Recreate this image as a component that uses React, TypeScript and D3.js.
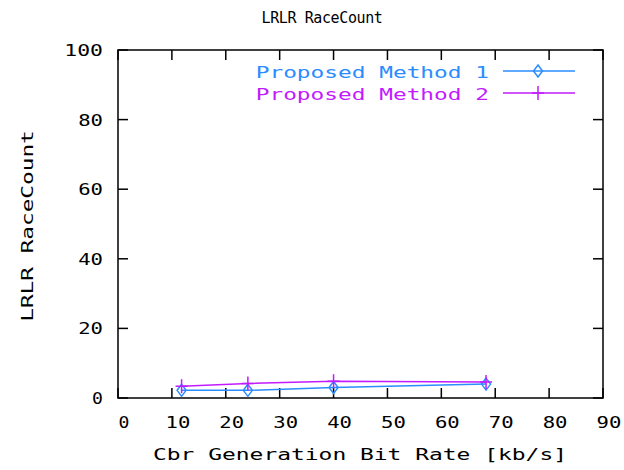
import React from "react";
import * as d3 from "d3";

const title = "LRLR RaceCount";
const xLabel = "Cbr Generation Bit Rate [kb/s]";
const yLabel = "LRLR RaceCount";
const xTicks = [0, 10, 20, 30, 40, 50, 60, 70, 80, 90];
const yTicks = [0, 20, 40, 60, 80, 100];
const seriesNames = ["Proposed Method 1", "Proposed Method 2"];
const seriesColors = ["#2a8cff", "#c21bff"];
const xValues1 = [11.8, 24.1, 40, 68.3];
const yValues1 = [2.2, 2.2, 3.0, 4.0];
const xValues2 = [11.8, 24.1, 40, 68.3];
const yValues2 = [3.4, 4.2, 4.8, 4.6];

const W = 624, H = 470;
const L = 118, R = 603, T = 50, B = 398;
const FONT = "'DejaVu Sans Mono', monospace";
const PITCH = 13.9;

function WT(props: { x?: number; y?: number; anchor?: string; fill?: string; transform?: string; children: string }) {
  const s = props.children;
  return (
    <text x={props.x ?? 0} y={props.y ?? 0} transform={props.transform} textAnchor={props.anchor || "start"}
      fontFamily={FONT} fontSize={15.5} fill={props.fill || "#000"}
      textLength={s.length * PITCH - 3} lengthAdjust="spacingAndGlyphs">{s}</text>
  );
}

export default function App() {
  const x = d3.scaleLinear().domain([0, 90]).range([L, R]);
  const y = d3.scaleLinear().domain([0, 100]).range([B, T]);
  const line = d3.line<[number, number]>().x(d => x(d[0])).y(d => y(d[1]));
  const s1: [number, number][] = xValues1.map((v, i) => [v, yValues1[i]]);
  const s2: [number, number][] = xValues2.map((v, i) => [v, yValues2[i]]);
  const tk = 10;

  const diamond = (cx: number, cy: number, c: string, k: string) => (
    <path key={k} d={`M${cx},${cy - 6}L${cx + 4.5},${cy}L${cx},${cy + 6}L${cx - 4.5},${cy}Z`} fill="none" stroke={c} strokeWidth={1.5} />
  );
  const plus = (cx: number, cy: number, c: string, k: string) => (
    <path key={k} d={`M${cx},${cy - 7}V${cy + 7}M${cx - 6},${cy}H${cx + 6}`} stroke={c} strokeWidth={1.5} />
  );

  return (
    <svg width={W} height={H} style={{ position: "absolute", left: 0, top: 0, background: "#fff" }}>
      <rect x={0} y={0} width={W} height={H} fill="#fff" />
      <text x={322} y={23} textAnchor="middle" fontFamily={FONT} fontSize={15} letterSpacing={-0.4} fill="#000">{title}</text>
      {xTicks.map(t => (
        <g key={"xt" + t}>
          <line x1={x(t)} x2={x(t)} y1={B} y2={B - tk} stroke="#000" strokeWidth={1.5} />
          <line x1={x(t)} x2={x(t)} y1={T} y2={T + tk} stroke="#000" strokeWidth={1.5} />
          <WT x={x(t) + 6} y={428} anchor="middle">{String(t)}</WT>
        </g>
      ))}
      {yTicks.map(t => (
        <g key={"yt" + t}>
          <line x1={L} x2={L + tk} y1={y(t)} y2={y(t)} stroke="#000" strokeWidth={1.5} />
          <line x1={R} x2={R - tk} y1={y(t)} y2={y(t)} stroke="#000" strokeWidth={1.5} />
          <WT x={103} y={y(t) + 6} anchor="end">{String(t)}</WT>
        </g>
      ))}
      <rect x={L} y={T} width={R - L} height={B - T} fill="none" stroke="#000" strokeWidth={1.5} />
      <WT x={360} y={460} anchor="middle">{xLabel}</WT>
      <WT transform={`translate(33,226) rotate(-90)`} anchor="middle">{yLabel}</WT>
      <path d={line(s1) || ""} fill="none" stroke={seriesColors[0]} strokeWidth={1.5} />
      {s1.map((d, i) => diamond(x(d[0]), y(d[1]), seriesColors[0], "d" + i))}
      <path d={line(s2) || ""} fill="none" stroke={seriesColors[1]} strokeWidth={1.5} />
      {s2.map((d, i) => plus(x(d[0]), y(d[1]), seriesColors[1], "p" + i))}
      <WT x={489} y={78} anchor="end" fill={seriesColors[0]}>{seriesNames[0]}</WT>
      <line x1={503} x2={575} y1={71} y2={71} stroke={seriesColors[0]} strokeWidth={1.5} />
      {diamond(538, 71, seriesColors[0], "ld")}
      <WT x={489} y={100} anchor="end" fill={seriesColors[1]}>{seriesNames[1]}</WT>
      <line x1={503} x2={575} y1={93} y2={93} stroke={seriesColors[1]} strokeWidth={1.5} />
      {plus(538, 93, seriesColors[1], "lp")}
    </svg>
  );
}
